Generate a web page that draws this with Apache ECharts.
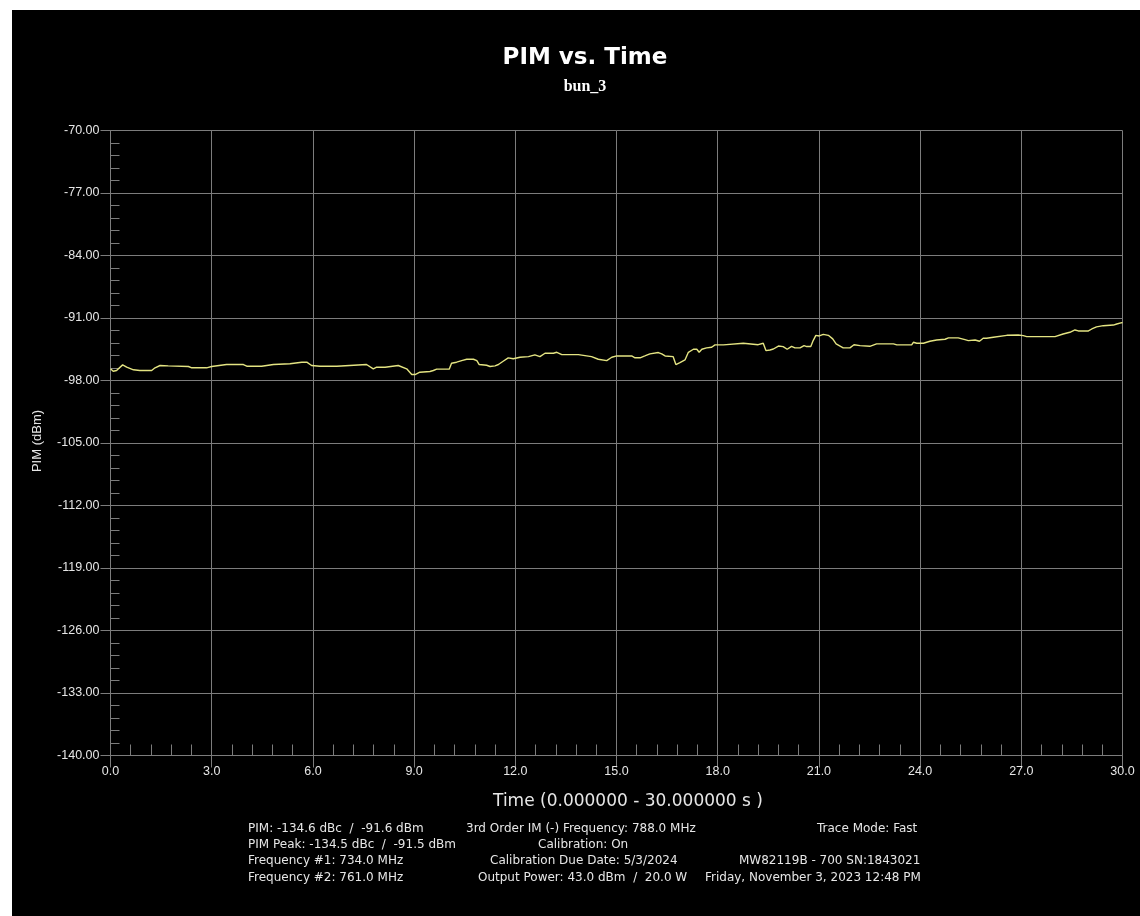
<!DOCTYPE html>
<html>
<head>
<meta charset="utf-8">
<script src="https://cdn.jsdelivr.net/npm/echarts@6/dist/echarts.min.js"></script>
<style>
  html, body { margin: 0; padding: 0; background: #ffffff; }
  #chart { position: absolute; left: 12px; top: 10px; width: 1128px; height: 906px; }
</style>
</head>
<body>
<div id="chart"></div>
<script>
// ---- data ----
const titleText = 'PIM vs. Time';
const subtitleText = 'bun_3';
const yAxisName = 'PIM (dBm)';
const xAxisName = 'Time (0.000000 - 30.000000 s )';

const xMin = 0, xMax = 30, xStep = 3, xMinorStep = 0.6;
const yMin = -140, yMax = -70, yStep = 7, yMinorStep = 1.4;

const timeS = [
  0.00, 0.08, 0.18, 0.36, 0.48, 0.68, 0.87, 1.22, 1.32, 1.47, 1.71, 2.31, 2.41, 2.85, 3.00, 3.44, 3.94, 4.04,
  4.48, 4.53, 4.83, 4.88, 5.32, 5.67, 5.82, 5.96, 6.21, 6.71, 6.75, 7.59, 7.79, 7.89, 8.14, 8.19, 8.53, 8.78,
  8.93, 9.03, 9.17, 9.47, 9.57, 9.67, 10.04, 10.11, 10.26, 10.41, 10.56, 10.76, 10.86, 10.93, 11.15, 11.25,
  11.40, 11.50, 11.64, 11.79, 11.94, 12.14, 12.39, 12.58, 12.73, 12.88, 13.13, 13.23, 13.38, 13.87, 13.92,
  14.26, 14.31, 14.46, 14.71, 14.86, 15.01, 15.45, 15.55, 15.70, 15.84, 15.99, 16.24, 16.34, 16.44, 16.68,
  16.76, 16.88, 17.03, 17.13, 17.28, 17.38, 17.45, 17.53, 17.67, 17.82, 17.92, 18.17, 18.22, 18.76, 18.81,
  19.20, 19.25, 19.35, 19.43, 19.55, 19.65, 19.80, 19.94, 20.06, 20.19, 20.29, 20.44, 20.56, 20.64, 20.76,
  20.83, 20.91, 21.01, 21.13, 21.28, 21.41, 21.51, 21.72, 21.92, 22.04, 22.22, 22.51, 22.71, 23.21, 23.26,
  23.31, 23.75, 23.80, 23.90, 24.10, 24.29, 24.49, 24.74, 24.84, 25.13, 25.33, 25.43, 25.63, 25.76, 25.87,
  25.97, 26.17, 26.57, 26.91, 27.06, 27.16, 28.00, 28.05, 28.24, 28.44, 28.59, 28.69, 28.99, 29.09, 29.23,
  29.43, 29.73, 29.83, 29.98, 30.00
];
const pimDbm = [
  -96.69, -96.96, -96.88, -96.25, -96.51, -96.80, -96.88, -96.88, -96.58, -96.32, -96.36, -96.43, -96.58, -96.58, -96.43, -96.21, -96.21, -96.40,
  -96.40, -96.21, -96.21, -96.40, -96.13, -95.95, -95.95, -96.32, -96.40, -96.40, -96.21, -96.21, -96.69, -96.51, -96.51, -96.36, -96.32, -96.69,
  -97.33, -97.33, -97.07, -96.99, -96.88, -96.73, -96.73, -96.07, -95.95, -95.77, -95.62, -95.62, -95.77, -96.21, -96.29, -96.43,
  -96.36, -96.21, -95.84, -95.46, -95.57, -95.40, -95.33, -95.13, -95.33, -94.95, -94.95, -94.84, -95.10, -95.10, -95.30,
  -95.33, -95.50, -95.62, -95.77, -95.40, -95.25, -95.25, -95.46, -95.46, -95.25, -95.02, -94.87, -95.02, -95.25, -95.33,
  -96.21, -96.00, -95.70, -94.84, -94.50, -94.50, -94.84, -94.50, -94.35, -94.28, -94.01, -94.01, -93.83, -93.83, -93.99,
  -93.99, -94.10, -93.83, -94.65, -94.58, -94.47, -94.14, -94.20, -94.50, -94.17, -94.35, -94.35, -94.09, -94.20, -94.20,
  -93.53, -92.94, -93.01, -92.83, -92.94, -93.34, -93.90, -94.35, -94.35, -94.00, -94.09, -94.17, -93.90, -93.90, -93.79,
  -94.01, -94.01, -93.72, -93.83, -93.83, -93.60, -93.46, -93.38, -93.23, -93.23, -93.42, -93.53, -93.46, -93.60, -93.27,
  -93.27, -93.16, -92.94, -92.90, -92.98, -93.09, -93.09, -93.24, -92.79, -92.60, -92.34, -92.45, -92.45, -92.23, -92.00,
  -91.86, -91.79, -91.67, -91.52, -91.56
];

const infoCol1 = ['PIM: -134.6 dBc  /  -91.6 dBm', 'PIM Peak: -134.5 dBc  /  -91.5 dBm', 'Frequency #1: 734.0 MHz', 'Frequency #2: 761.0 MHz'];
const infoCol2 = ['3rd Order IM (-) Frequency: 788.0 MHz', 'Calibration: On', 'Calibration Due Date: 5/3/2024', 'Output Power: 43.0 dBm  /  20.0 W'];
const infoCol3 = ['Trace Mode: Fast', '', 'MW82119B - 700 SN:1843021', 'Friday, November 3, 2023 12:48 PM'];

// ---- chart ----
const seriesData = timeS.map((t, i) => [t, pimDbm[i]]);
const gridColor = '#7c7c7c';
const labelColor = '#e6e6e6';
const infoFont = '12px "DejaVu Sans", sans-serif';

const chart = echarts.init(document.getElementById('chart'), null, { renderer: 'canvas' });

const col2X = [454, 526, 478, 466];
const col3X = [805, 0, 727, 693];
const lineY = [819, 835, 851, 868];
const infoGraphics = [];
for (let i = 0; i < 4; i++) {
  infoGraphics.push({ type: 'text', x: 236, y: lineY[i], style: { text: infoCol1[i], fill: labelColor, font: infoFont, verticalAlign: 'middle' } });
  infoGraphics.push({ type: 'text', x: col2X[i], y: lineY[i], style: { text: infoCol2[i], fill: labelColor, font: infoFont, verticalAlign: 'middle' } });
  if (infoCol3[i]) infoGraphics.push({ type: 'text', x: col3X[i], y: lineY[i], style: { text: infoCol3[i], fill: labelColor, font: infoFont, verticalAlign: 'middle' } });
}

chart.setOption({
  backgroundColor: '#000000',
  animation: false,
  grid: { left: 98.5, right: 17.5, top: 120.5, bottom: 160.5, containLabel: false },
  xAxis: [
    {
      type: 'value', min: xMin, max: xMax, interval: xStep,
      axisLine: { show: true, lineStyle: { color: gridColor, width: 1 } },
      axisTick: { show: true, inside: false, length: 12, lineStyle: { color: gridColor } },
      axisLabel: { color: labelColor, fontSize: 12.5, fontFamily: '"Liberation Sans", Arial, sans-serif', margin: 10, formatter: v => v.toFixed(1) },
      splitLine: { show: true, lineStyle: { color: gridColor, width: 1 } }
    },
    {
      type: 'value', min: xMin, max: xMax, interval: xMinorStep, position: 'bottom',
      axisLine: { show: false },
      axisTick: { show: true, inside: true, length: 11, lineStyle: { color: gridColor } },
      axisLabel: { show: false },
      splitLine: { show: false }
    }
  ],
  yAxis: [
    {
      type: 'value', min: yMin, max: yMax, interval: yStep,
      axisLine: { show: true, lineStyle: { color: gridColor, width: 1 } },
      axisTick: { show: true, inside: false, length: 10, lineStyle: { color: gridColor } },
      axisLabel: { color: labelColor, fontSize: 12.5, fontFamily: '"Liberation Sans", Arial, sans-serif', margin: 11, formatter: v => v.toFixed(2) },
      splitLine: { show: true, lineStyle: { color: gridColor, width: 1 } }
    },
    {
      type: 'value', min: yMin, max: yMax, interval: yMinorStep, position: 'left',
      axisLine: { show: false },
      axisTick: { show: true, inside: true, length: 9, lineStyle: { color: gridColor } },
      axisLabel: { show: false },
      splitLine: { show: false }
    }
  ],
  series: [{
    type: 'line',
    xAxisIndex: 0, yAxisIndex: 0,
    data: seriesData,
    showSymbol: false,
    symbol: 'none',
    lineStyle: { color: '#e4e482', width: 1.4 },
    clip: true
  }],
  graphic: [
    { type: 'text', x: 573, y: 48, style: { text: titleText, fill: '#ffffff', font: 'bold 23px "DejaVu Sans", sans-serif', align: 'center', verticalAlign: 'middle' } },
    { type: 'text', x: 573, y: 76.5, style: { text: subtitleText, fill: '#ffffff', font: 'bold 16px "Liberation Serif", serif', align: 'center', verticalAlign: 'middle' } },
    { type: 'text', x: 25.5, y: 431, rotation: Math.PI / 2, style: { text: yAxisName, fill: labelColor, font: '13px "Liberation Sans", Arial, sans-serif', align: 'center', verticalAlign: 'middle' } },
    { type: 'text', x: 616, y: 792, style: { text: xAxisName, fill: labelColor, font: '17px "DejaVu Sans", sans-serif', align: 'center', verticalAlign: 'middle' } }
  ].concat(infoGraphics)
});
</script>
</body>
</html>
